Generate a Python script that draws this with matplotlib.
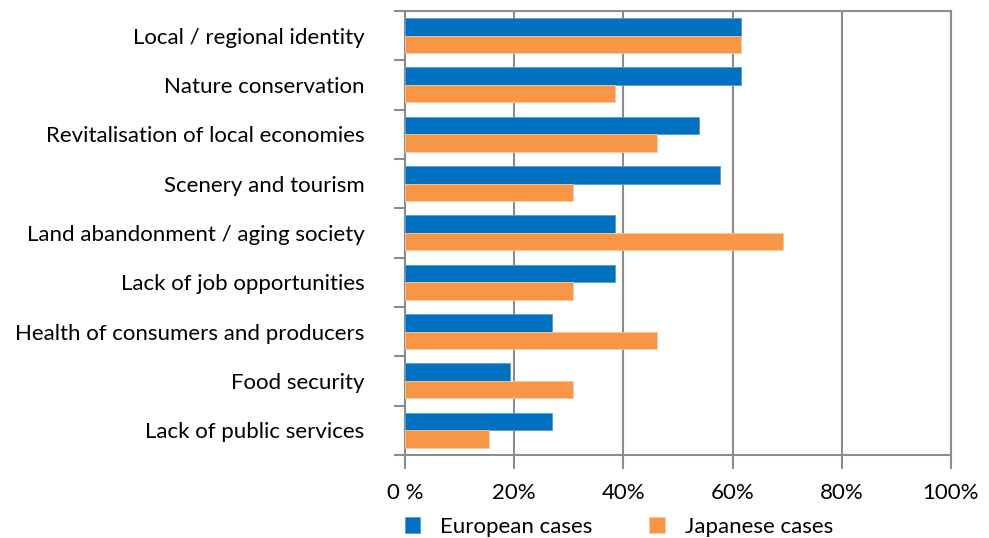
import numpy as np
import matplotlib.pyplot as plt
from matplotlib.ticker import FixedLocator

plt.rcParams['font.family'] = ['Lato', 'DejaVu Sans']

categories = [
    'Local / regional identity',
    'Nature conservation',
    'Revitalisation of local economies',
    'Scenery and tourism',
    'Land abandonment / aging society',
    'Lack of job opportunities',
    'Health of consumers and producers',
    'Food security',
    'Lack of public services',
]
european = [61.5, 61.5, 53.8, 57.7, 38.5, 38.5, 26.9, 19.2, 26.9]
japanese = [61.5, 38.5, 46.2, 30.8, 69.2, 30.8, 46.2, 30.8, 15.4]
xticks = [0, 20, 40, 60, 80, 100]
xticklabels = ['0 %', '20%', '40%', '60%', '80%', '100%']

BLUE = '#0070C0'
ORANGE = '#F79646'
GRID = '#8c8c8c'


def main():
    fig = plt.figure(figsize=(9.89, 5.38), dpi=100)
    ax = fig.add_axes([0.4095, 0.1543, 0.552, 0.8253])

    y = np.arange(len(categories))
    h = 0.355
    ax.barh(y - h / 2, european, height=h, color=BLUE, edgecolor='#5b9bd5',
            linewidth=0.6, label='European cases', zorder=3)
    ax.barh(y + h / 2, japanese, height=h, color=ORANGE, edgecolor='#fbc8a0',
            linewidth=0.6, label='Japanese cases', zorder=3)

    ax.set_xlim(0, 100)
    ax.set_ylim(len(categories) - 0.5, -0.5)

    ax.set_xticks(xticks)
    ax.set_xticklabels(xticklabels, fontsize=16)
    ax.set_yticks(y)
    ax.set_yticklabels(categories, fontsize=16)
    ax.yaxis.set_minor_locator(FixedLocator(np.arange(-0.5, len(categories), 1.0)))

    ax.tick_params(axis='y', which='major', length=0, pad=29)
    ax.tick_params(axis='y', which='minor', length=8, width=1.5, color=GRID, direction='out')
    ax.tick_params(axis='x', which='major', length=10, width=1.5, color=GRID,
                   direction='out', pad=10)

    ax.grid(axis='x', color=GRID, lw=1.5, zorder=0)
    for s in ax.spines.values():
        s.set_color(GRID)
        s.set_linewidth(1.5)

    fig.legend(loc='lower left', bbox_to_anchor=(0.389, -0.035), ncol=2, frameon=False,
               fontsize=16, handlelength=0.7, handleheight=0.7, columnspacing=2.55,
               handletextpad=0.9)

    fig.savefig('out.png', dpi=100)


if __name__ == '__main__':
    main()
